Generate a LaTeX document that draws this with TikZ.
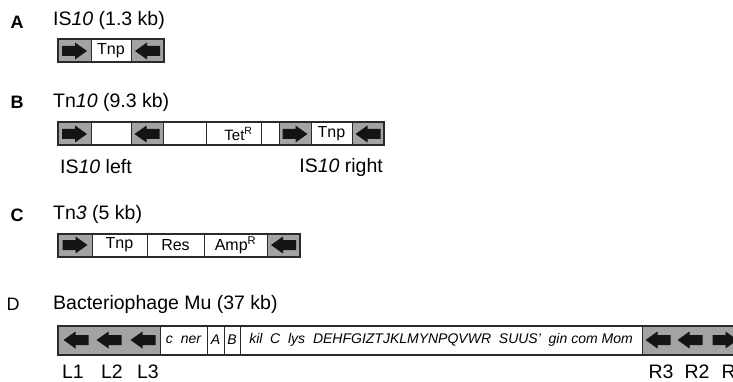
\documentclass[tikz,border=0pt]{standalone}
\usepackage{fontspec}
\setmainfont{Liberation Sans}
\usetikzlibrary{positioning}
\definecolor{framegrey}{HTML}{2A2A2A}
\definecolor{isgrey}{HTML}{A3A3A3}
\definecolor{inkblack}{HTML}{141414}

\tikzset{
  fwdarrow/.pic={\fill[inkblack] (-12.5,-5) -- (0.5,-5) -- (0.5,-8.5) -- (12.5,0) -- (0.5,8.5) -- (0.5,5) -- (-12.5,5) -- cycle;},
  revarrow/.pic={\fill[inkblack] (12.5,-5) -- (-0.5,-5) -- (-0.5,-8.5) -- (-12.5,0) -- (-0.5,8.5) -- (-0.5,5) -- (12.5,5) -- cycle;}
}

\begin{document}
\begin{tikzpicture}[
    x=1pt, y=-1pt,
    seg/.style={rectangle, draw=framegrey, line width=1pt, fill=white, minimum height=23pt, inner sep=0pt, outer sep=0pt, font=\fontsize{16}{18}\selectfont},
    isseg/.style={seg, fill=isgrey},
    museg/.style={seg, minimum height=29pt, font=\fontsize{14}{16}\selectfont\itshape},
    frame/.style={draw=framegrey, line width=2pt},
    title/.style={anchor=west, inner sep=0pt, font=\fontsize{19.5}{21}\selectfont},
    panel/.style={inner sep=0pt, font=\fontsize{18}{20}\selectfont\bfseries},
    endlabel/.style={inner sep=0pt, font=\fontsize{19.5}{21}\selectfont}
]
\useasboundingbox (0,0) rectangle (733,382);
\fill[white] (0,0) rectangle (733,382);
\clip (0,0) rectangle (733,382);

% A: IS10
\node[panel] (pa) at (17,22) {A};
\node[title] (ta) at (53,20) {IS\textit{10} (1.3 kb)};
\node[isseg, minimum width=33pt, anchor=west] (a1) at (58,51) {};
\node[seg, minimum width=40pt, right=0pt of a1] (a2) {Tnp};
\node[isseg, minimum width=33pt, right=0pt of a2] (a3) {};
\draw[frame] (a1.north west) rectangle (a3.south east);
\pic at (a1.center) {fwdarrow};
\pic at (a3.center) {revarrow};

% B: Tn10
\node[panel] (pb) at (17,102) {B};
\node[title] (tb) at (53,102) {Tn\textit{10} (9.3 kb)};
\node[isseg, minimum width=33pt, anchor=west] (b1) at (58,134) {};
\node[seg, minimum width=40pt, right=0pt of b1] (b2) {};
\node[isseg, minimum width=32pt, right=0pt of b2] (b3) {};
\node[seg, minimum width=43pt, right=0pt of b3] (b4) {};
\node[seg, minimum width=55pt, right=0pt of b4, font=\fontsize{15}{17}\selectfont] (b5) {\hspace*{10pt}Tet\textsuperscript{R}};
\node[seg, minimum width=18pt, right=0pt of b5] (b6) {};
\node[isseg, minimum width=32pt, right=0pt of b6] (b7) {};
\node[seg, minimum width=41pt, right=0pt of b7] (b8) {Tnp};
\node[isseg, minimum width=32pt, right=0pt of b8] (b9) {};
\draw[frame] (b1.north west) rectangle (b9.south east);
\pic at (b1.center) {fwdarrow};
\pic at (b3.center) {revarrow};
\pic at (b7.center) {fwdarrow};
\pic at (b9.center) {revarrow};
\node[endlabel, anchor=west] (bl) at (60,167) {IS\textit{10} left};
\node[endlabel, anchor=east] (br) at (383,167) {IS\textit{10} right};

% C: Tn3
\node[panel] (pc) at (17,215) {C};
\node[title] (tc) at (53,214) {Tn\textit{3} (5 kb)};
\node[isseg, minimum width=34pt, anchor=west] (c1) at (58,245) {};
\node[seg, minimum width=55pt, right=0pt of c1] (c2) {Tnp};
\node[seg, minimum width=57pt, right=0pt of c2] (c3) {Res};
\node[seg, minimum width=63pt, right=0pt of c3] (c4) {Amp\textsuperscript{R}};
\node[isseg, minimum width=33pt, right=0pt of c4] (c5) {};
\draw[frame] (c1.north west) rectangle (c5.south east);
\pic at (c1.center) {fwdarrow};
\pic at (c5.center) {revarrow};

% D: Mu
\node[panel, font=\fontsize{18}{20}\selectfont] (pd) at (13,304) {D};
\node[title] (td) at (53,304) {Bacteriophage Mu (37 kb)};
\node[isseg, minimum height=29pt, minimum width=102pt, anchor=west] (d1) at (58,340) {};
\node[museg, minimum width=47pt, right=0pt of d1] (d2) {c\ \ ner};
\node[museg, minimum width=17pt, right=0pt of d2] (d3) {A};
\node[museg, minimum width=16pt, right=0pt of d3] (d4) {B};
\node[museg, minimum width=402pt, right=0pt of d4] (d5) {kil\ \ C\ \ lys\ \ DEHFGIZTJKLMYNPQVWR\ \ SUUS'\ \ gin com Mom};
\node[isseg, minimum height=29pt, minimum width=118pt, right=0pt of d5] (d6) {};
\draw[frame] (d1.north west) rectangle (d6.south east);
\foreach \dx in {18,51,85}
  \pic at ([xshift=\dx pt]d1.west) {revarrow};
\pic at ([xshift=16pt]d6.west) {revarrow};
\pic at ([xshift=48pt]d6.west) {revarrow};
\pic at ([xshift=83pt]d6.west) {fwdarrow};
\node[endlabel] (l1) at (73,372) {L1};
\node[endlabel] (l2) at (112,372) {L2};
\node[endlabel] (l3) at (148,372) {L3};
\node[endlabel] (r3) at (661,372) {R3};
\node[endlabel] (r2) at (697,372) {R2};
\node[endlabel] (r1) at (734,372) {R1};
\end{tikzpicture}
\end{document}
